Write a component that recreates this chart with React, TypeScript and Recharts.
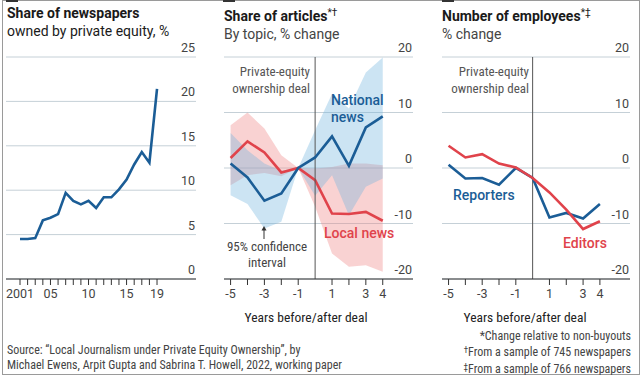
import React from "react";
import {
  ComposedChart,
  LineChart,
  Line,
  Area,
  XAxis,
  YAxis,
  CartesianGrid,
  ReferenceLine,
} from "recharts";

// Panel 1: share of newspapers owned by private equity, %
const peYears = [
  2001, 2002, 2003, 2004, 2005, 2006, 2007, 2008, 2009, 2010, 2011, 2012, 2013,
  2014, 2015, 2016, 2017, 2018, 2019,
];
const peShare = [
  4.5, 4.5, 4.6, 6.6, 6.9, 7.3, 9.7, 8.8, 8.4, 8.8, 8.0, 9.2, 9.2, 10.1, 11.2,
  12.9, 14.3, 13.1, 21.4,
];
const peYearLabels: Record<number, string> = {
  2001: "2001",
  2005: "05",
  2010: "10",
  2015: "15",
  2019: "19",
};
const peYTicks = [0, 5, 10, 15, 20, 25];

// Panels 2 and 3: years before/after deal
const dealYears = [-5, -4, -3, -2, -1, 0, 1, 2, 3, 4];
const dealTicks = [-5, -4, -3, -2, -1, 1, 2, 3, 4];
const dealTickLabels = [-5, -3, -1, 1, 3, 4];
const changeTicks = [-20, -10, 0, 10, 20];

const nationalNews = [0.8, -1.7, -5.9, -4.6, 0, 1.9, 5.7, 0.4, 7.3, 9.3];
const nationalLow = [-4.9, -6.5, -10.9, -9.7, 0, -5.0, -1.3, -8.5, -3.4, -1.9];
const nationalHigh = [6.3, 3.2, 0.8, -0.5, 0, 6.8, 13.4, 10.7, 17.2, 19.9];

const localNews = [1.8, 4.8, 2.8, -0.8, 0, -2.2, -8.2, -8.3, -7.9, -9.5];
const localLow = [-3.1, -1.3, -0.9, -1.5, 0, -7.0, -15.4, -17.8, -17.5, -18.7];
const localHigh = [7.7, 10.0, 7.1, 2.3, 0, -0.1, 0.2, 0.8, 0.8, 0.5];

const reporters = [0.6, -1.9, -1.8, -3.0, 0, -1.8, -8.9, -8.1, -9.1, -6.5];
const editors = [4.0, 1.9, 2.5, 0.8, 0.1, -1.8, -4.4, -7.5, -11.0, -9.6];

const BLUE = "#1b5d96";
const RED = "#e0434b";
const GRID = "#c5d0d7";
const AXIS = "#333";
const TEXT = "#333";
const NARROW = '"Liberation Sans Narrow", "Roboto Condensed", Roboto, sans-serif';
const SANS = 'Roboto, "Noto Sans", sans-serif';

const peData = peYears.map((year, i) => ({ year, share: peShare[i] }));
const articleData = dealYears.map((year, i) => ({
  year,
  national: nationalNews[i],
  local: localNews[i],
  nationalBand: [nationalLow[i], nationalHigh[i]],
  localBand: [localLow[i], localHigh[i]],
}));
const staffData = dealYears.map((year, i) => ({
  year,
  reporters: reporters[i],
  editors: editors[i],
}));

const YTick = (props: any) => {
  const { x, y, payload } = props;
  return (
    <text
      x={x - 1}
      y={y - 5}
      textAnchor="end"
      fontSize={12.5}
      fontFamily={SANS}
      fill="#444"
    >
      {payload.value}
    </text>
  );
};

const makeXTick = (labelFor: (v: number) => string | null) => (props: any) => {
  const { x, y, payload } = props;
  const label = labelFor(payload.value);
  return (
    <g>
      <line x1={x} y1={y} x2={x} y2={y + 6} stroke={AXIS} strokeWidth={1} />
      {label !== null && (
        <text
          x={x}
          y={y + 19}
          textAnchor="middle"
          fontSize={12.5}
          fontFamily={SANS}
          fill="#444"
        >
          {label}
        </text>
      )}
    </g>
  );
};

const PeXTick = makeXTick((v) => peYearLabels[v] ?? null);
const DealXTick = makeXTick((v) =>
  dealTickLabels.includes(v) ? String(v) : null,
);

const abs = (left: number, top: number, extra: React.CSSProperties = {}) =>
  ({ position: "absolute", left, top, ...extra }) as React.CSSProperties;

const CHART_TOP = 39;
const CHART_H = 270;
const MARGIN = { top: 18, right: 0, left: 0, bottom: 0 };
const DEAL_DOMAIN: [number, number] = [-5.39, 5.79];

export default function App() {
  return (
    <div
      style={{
        position: "absolute",
        left: 0,
        top: 0,
        width: 640,
        height: 375,
        background: "#fff",
        overflow: "hidden",
        color: TEXT,
      }}
    >
      {/* frame and tabs */}
      <div
        style={abs(2, 0, {
          width: 636,
          height: 373,
          border: "1px solid #9a9a9a",
        })}
      />
      {[6, 223, 442].map((x) => (
        <div key={x} style={abs(x, 0, { width: 12, height: 2, background: "#333" })} />
      ))}

      {/* titles */}
      <div style={abs(7, 4, { fontFamily: SANS, fontSize: 14, lineHeight: "18px", color: "#1a1a1a" })}>
        <div style={{ fontWeight: 700 }}>Share of newspapers</div>
        <div>owned by private equity, %</div>
      </div>
      <div style={abs(224, 4, { fontFamily: SANS, fontSize: 14, lineHeight: "18px", color: "#1a1a1a" })}>
        <div style={{ fontWeight: 700 }}>
          Share of articles
          <span style={{ fontSize: 10, fontWeight: 400, verticalAlign: "5px" }}>*†</span>
        </div>
        <div style={{ color: "#444" }}>By topic, % change</div>
      </div>
      <div style={abs(442, 4, { fontFamily: SANS, fontSize: 14, lineHeight: "18px", color: "#1a1a1a" })}>
        <div style={{ fontWeight: 700 }}>
          Number of employees
          <span style={{ fontSize: 10, fontWeight: 400, verticalAlign: "5px" }}>*‡</span>
        </div>
        <div style={{ color: "#444" }}>% change</div>
      </div>

      {/* panel 1 */}
      <div style={abs(6, CHART_TOP)}>
        <LineChart width={190} height={CHART_H} data={peData} margin={MARGIN}>
          <CartesianGrid vertical={false} stroke={GRID} />
          <XAxis
            dataKey="year"
            type="number"
            domain={[1999.16, 2024.12]}
            ticks={peYears}
            interval={0}
            height={30}
            tickSize={0}
            tickMargin={0}
            axisLine={{ stroke: AXIS }}
            tickLine={false}
            tick={<PeXTick />}
          />
          <YAxis
            orientation="right"
            mirror
            domain={[0, 25]}
            ticks={peYTicks}
            interval={0}
            tickSize={0}
            tickMargin={0}
            axisLine={false}
            tickLine={false}
            tick={<YTick />}
          />
          <Line
            type="linear"
            dataKey="share"
            stroke={BLUE}
            strokeWidth={2.6}
            dot={false}
            isAnimationActive={false}
          />
        </LineChart>
      </div>

      {/* panel 2 */}
      <div style={abs(224, CHART_TOP)}>
        <ComposedChart width={189} height={CHART_H} data={articleData} margin={MARGIN}>
          <CartesianGrid vertical={false} stroke={GRID} />
          <XAxis
            dataKey="year"
            type="number"
            domain={DEAL_DOMAIN}
            ticks={dealTicks}
            interval={0}
            height={30}
            tickSize={0}
            tickMargin={0}
            axisLine={{ stroke: AXIS }}
            tickLine={false}
            tick={<DealXTick />}
          />
          <YAxis
            orientation="right"
            mirror
            domain={[-20, 20]}
            ticks={changeTicks}
            interval={0}
            tickSize={0}
            tickMargin={0}
            axisLine={false}
            tickLine={false}
            tick={<YTick />}
          />
          <Area
            type="linear"
            dataKey="localBand"
            stroke="none"
            fill="#f08a8a"
            fillOpacity={0.38}
            isAnimationActive={false}
          />
          <Line
            type="linear"
            dataKey="local"
            stroke={RED}
            strokeWidth={2.6}
            dot={false}
            isAnimationActive={false}
          />
          <Area
            type="linear"
            dataKey="nationalBand"
            stroke="none"
            fill="#72b3de"
            fillOpacity={0.36}
            isAnimationActive={false}
          />
          <ReferenceLine x={0} stroke="#555" strokeWidth={1} />
          <Line
            type="linear"
            dataKey="national"
            stroke={BLUE}
            strokeWidth={2.6}
            dot={false}
            isAnimationActive={false}
          />
        </ComposedChart>
      </div>

      {/* panel 3 */}
      <div style={abs(442, CHART_TOP)}>
        <LineChart width={188} height={CHART_H} data={staffData} margin={MARGIN}>
          <CartesianGrid vertical={false} stroke={GRID} />
          <XAxis
            dataKey="year"
            type="number"
            domain={DEAL_DOMAIN}
            ticks={dealTicks}
            interval={0}
            height={30}
            tickSize={0}
            tickMargin={0}
            axisLine={{ stroke: AXIS }}
            tickLine={false}
            tick={<DealXTick />}
          />
          <YAxis
            orientation="right"
            mirror
            domain={[-20, 20]}
            ticks={changeTicks}
            interval={0}
            tickSize={0}
            tickMargin={0}
            axisLine={false}
            tickLine={false}
            tick={<YTick />}
          />
          <ReferenceLine x={0} stroke="#555" strokeWidth={1} />
          <Line
            type="linear"
            dataKey="reporters"
            stroke={BLUE}
            strokeWidth={2.6}
            dot={false}
            isAnimationActive={false}
          />
          <Line
            type="linear"
            dataKey="editors"
            stroke={RED}
            strokeWidth={2.6}
            dot={false}
            isAnimationActive={false}
          />
        </LineChart>
      </div>

      {/* annotations */}
      {[310, 529].map((right) => (
        <div
          key={right}
          style={abs(right - 110, 63, {
            width: 110,
            textAlign: "right",
            fontFamily: NARROW,
            fontSize: 13,
            lineHeight: "17px",
            color: "#555",
          })}
        >
          Private-equity
          <br />
          ownership deal
        </div>
      ))}
      <div style={abs(331, 92, { fontFamily: SANS, fontSize: 14, fontWeight: 500, lineHeight: "17px", color: BLUE })}>
        National
        <br />
        news
      </div>
      <div style={abs(324, 225, { fontFamily: SANS, fontSize: 14, fontWeight: 500, lineHeight: "17px", color: RED })}>
        Local news
      </div>
      <div style={abs(453, 187, { fontFamily: SANS, fontSize: 14, fontWeight: 500, lineHeight: "17px", color: BLUE })}>
        Reporters
      </div>
      <div style={abs(563, 235, { fontFamily: SANS, fontSize: 14, fontWeight: 500, lineHeight: "17px", color: RED })}>
        Editors
      </div>
      <div
        style={abs(217, 239, {
          width: 100,
          textAlign: "center",
          fontFamily: NARROW,
          fontSize: 13,
          lineHeight: "16px",
          color: "#444",
        })}
      >
        95% confidence
        <br />
        interval
      </div>
      <svg style={abs(259, 226)} width={10} height={14}>
        <line x1={5} y1={3} x2={5} y2={13} stroke="#333" strokeWidth={1} />
        <polygon points="5,0 2.5,4.5 7.5,4.5" fill="#333" />
      </svg>

      {/* axis titles */}
      {[306, 525].map((c) => (
        <div
          key={c}
          style={abs(c - 80, 309, {
            width: 160,
            textAlign: "center",
            fontFamily: NARROW,
            fontSize: 13.5,
            lineHeight: "16px",
            color: "#222",
          })}
        >
          Years before/after deal
        </div>
      ))}

      {/* footnotes */}
      <div
        style={abs(7, 343, {
          fontFamily: NARROW,
          fontSize: 12,
          lineHeight: "14.5px",
          color: "#444",
          whiteSpace: "nowrap",
        })}
      >
        Source: “Local Journalism under Private Equity Ownership”, by
        <br />
        Michael Ewens, Arpit Gupta and Sabrina T. Howell, 2022, working paper
      </div>
      <div
        style={abs(330, 328.5, {
          width: 301,
          textAlign: "right",
          fontFamily: NARROW,
          fontSize: 12,
          lineHeight: "14.5px",
          color: "#444",
          whiteSpace: "nowrap",
        })}
      >
        *Change relative to non-buyouts
        <br />
        <span style={{ fontSize: 9, verticalAlign: "3px" }}>†</span>From a sample of 745 newspapers
        <br />
        <span style={{ fontSize: 9, verticalAlign: "3px" }}>‡</span>From a sample of 766 newspapers
      </div>
    </div>
  );
}
